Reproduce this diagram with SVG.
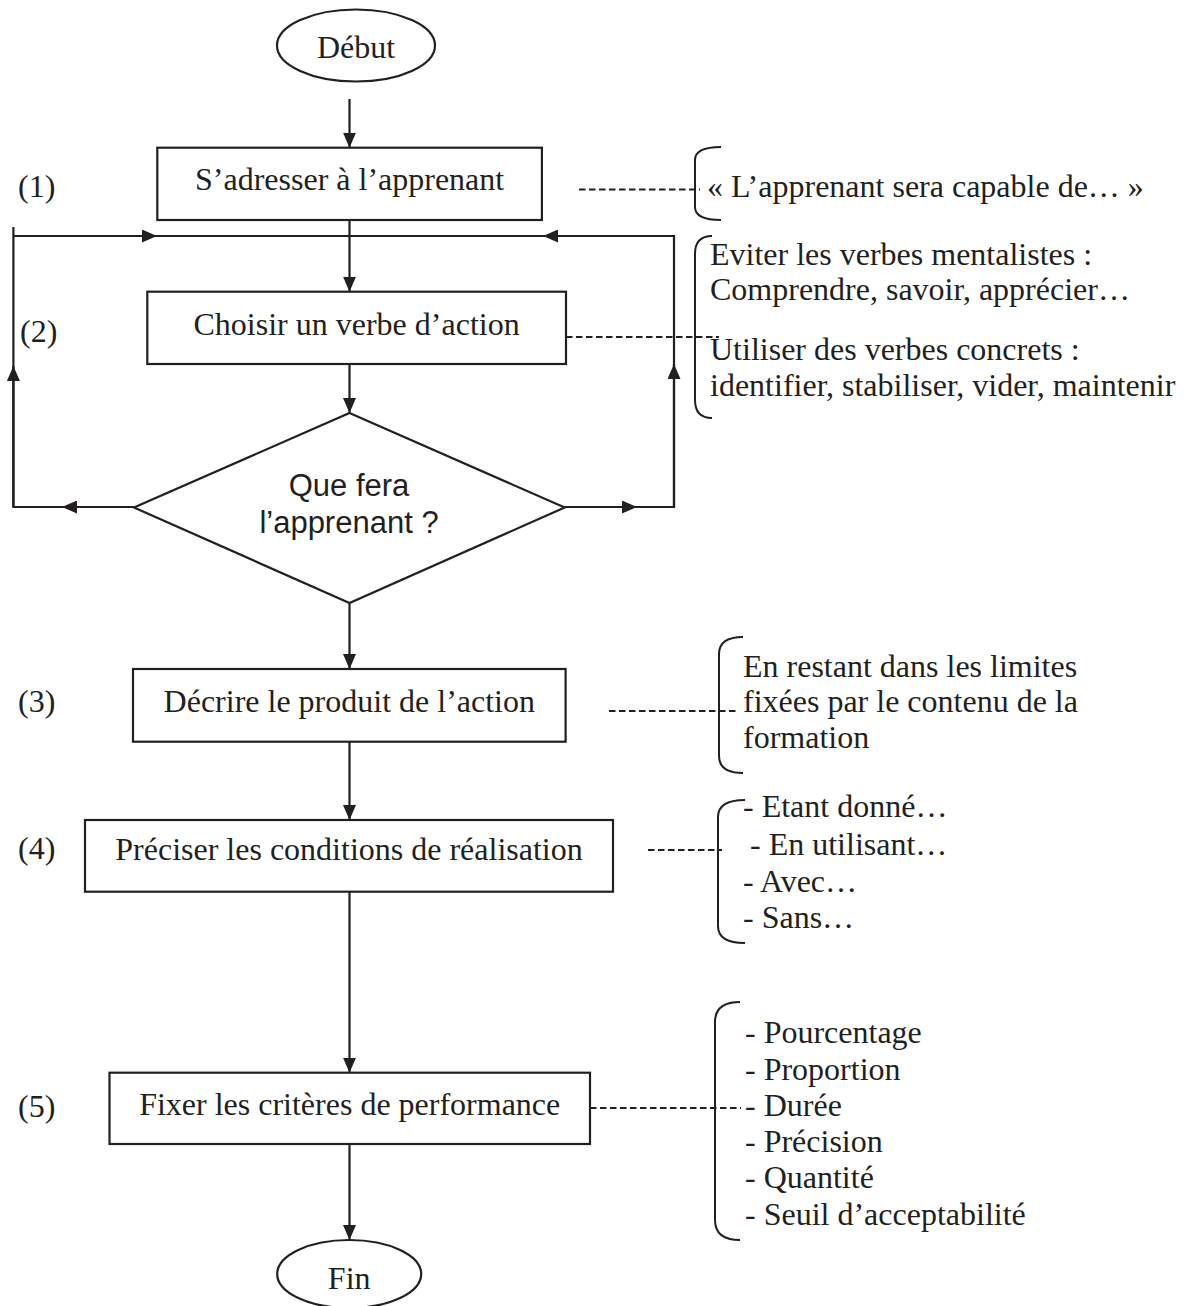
<svg xmlns="http://www.w3.org/2000/svg" width="1192" height="1306" viewBox="0 0 1192 1306">
<style>
.bg{fill:#ffffff}
.shape{fill:#ffffff;stroke:#231f20;stroke-width:2.2}
.t{font-family:"Liberation Serif","Times New Roman",serif;font-size:32px;fill:#231f20}
.c{text-anchor:middle}
.s{font-family:"Liberation Sans",Arial,sans-serif;font-size:31px;fill:#231f20;text-anchor:middle}
.ln{fill:none;stroke:#231f20;stroke-width:2.2}
.ar{fill:none;stroke:#231f20;stroke-width:2.2;marker-end:url(#ah)}
.dash{fill:none;stroke:#231f20;stroke-width:2;stroke-dasharray:6.5 3.5}
.br{fill:none;stroke:#231f20;stroke-width:2}
</style>
<defs>
<marker id="ah" markerUnits="userSpaceOnUse" markerWidth="16" markerHeight="13" refX="15" refY="6.5" orient="auto">
<path d="M0,0 L15,6.5 L0,13 Z" fill="#231f20"/>
</marker>
</defs>
<rect class="bg" x="0" y="0" width="1192" height="1306"/>

<g id="connectors">
<path class="ar" d="M349.5,99 L349.5,147.7"/>
<path class="ar" d="M349.5,220 L349.5,291.7"/>
<path class="ar" d="M349.5,364 L349.5,413"/>
<path class="ar" d="M349.5,603 L349.5,669"/>
<path class="ar" d="M349.5,741.7 L349.5,820"/>
<path class="ar" d="M349.5,891.7 L349.5,1072.7"/>
<path class="ar" d="M349.5,1144 L349.5,1240"/>
<!-- left loop -->
<path class="ar" d="M134,507 L62,507"/>
<path class="ln" d="M63,507 L13.4,507 L13.4,366"/>
<path class="ar" d="M13.4,507 L13.4,366"/>
<path class="ln" d="M13.4,366 L13.4,227"/>
<path class="ar" d="M13.4,236 L157,236"/>
<path class="ln" d="M156,236 L349.5,236"/>
<!-- right loop -->
<path class="ar" d="M564.7,507 L637,507"/>
<path class="ln" d="M636,507 L674,507 L674,236 L543,236"/>
<path class="ar" d="M674,507 L674,364"/>
<path class="ar" d="M674,236 L543,236"/>
<path class="ln" d="M544,236 L349.5,236"/>
<!-- dashed links -->
<path class="dash" d="M579,189.5 L700,189.5"/>
<path class="dash" d="M566,337 L719,337"/>
<path class="dash" d="M609,711 L737,711"/>
<path class="dash" d="M648,850 L722,850"/>
<path class="dash" d="M590,1108 L741,1108"/>
<!-- braces -->
<path class="br" d="M721,147 Q695,147 695,160 L695,207 Q695,220 721,220"/>
<path class="br" d="M712,236 Q695,236 695,254 L695,400 Q695,418 712,418"/>
<path class="br" d="M743,637 Q719,637 719,654 L719,756 Q719,773 743,773"/>
<path class="br" d="M745,800 Q718,800 718,817 L718,926 Q718,943 745,943"/>
<path class="br" d="M740,1002 Q715,1002 715,1022 L715,1220 Q715,1240 740,1240"/>
</g>

<g id="debut">
<ellipse class="shape" cx="356" cy="45.5" rx="79" ry="36"/>
<text class="t c" x="356" y="58">Début</text>
</g>
<g id="step1">
<rect class="shape" x="157.3" y="147.7" width="384.6" height="72.3"/>
<text class="t c" x="349.6" y="190">S’adresser à l’apprenant</text>
</g>
<g id="step2">
<rect class="shape" x="147.3" y="291.7" width="418.7" height="72.3"/>
<text class="t c" x="356.6" y="335">Choisir un verbe d’action</text>
</g>
<g id="decision">
<polygon class="shape" points="349.5,413 564.7,507.5 349.5,603 134,507.5"/>
<text class="s" x="349" y="496">Que fera</text>
<text class="s" x="349" y="533">l’apprenant ?</text>
</g>
<g id="step3">
<rect class="shape" x="133" y="669" width="432.6" height="72.7"/>
<text class="t c" x="349.3" y="712">Décrire le produit de l’action</text>
</g>
<g id="step4">
<rect class="shape" x="85" y="820" width="528" height="71.7"/>
<text class="t c" x="349" y="860">Préciser les conditions de réalisation</text>
</g>
<g id="step5">
<rect class="shape" x="109.5" y="1072.7" width="480.5" height="71.3"/>
<text class="t c" x="349.7" y="1115">Fixer les critères de performance</text>
</g>
<g id="fin">
<ellipse class="shape" cx="349.2" cy="1274" rx="72" ry="34"/>
<text class="t c" x="349.2" y="1289">Fin</text>
</g>

<g id="labels">
<text class="t" x="18" y="197">(1)</text>
<text class="t" x="20" y="342">(2)</text>
<text class="t" x="18" y="712">(3)</text>
<text class="t" x="18" y="859">(4)</text>
<text class="t" x="18" y="1117">(5)</text>
</g>

<g id="note1">
<text class="t" x="707" y="197">« L’apprenant sera capable de… »</text>
</g>
<g id="note2">
<text class="t" x="710" y="265">Eviter les verbes mentalistes :</text>
<text class="t" x="710" y="300">Comprendre, savoir, apprécier…</text>
<text class="t" x="710" y="360">Utiliser des verbes concrets :</text>
<text class="t" x="710" y="396">identifier, stabiliser, vider, maintenir</text>
</g>
<g id="note3">
<text class="t" x="743" y="677">En restant dans les limites</text>
<text class="t" x="743" y="712">fixées par le contenu de la</text>
<text class="t" x="743" y="748">formation</text>
</g>
<g id="note4">
<text class="t" x="743" y="817">- Etant donné…</text>
<text class="t" x="750" y="855">- En utilisant…</text>
<text class="t" x="743" y="892">- Avec…</text>
<text class="t" x="743" y="928">- Sans…</text>
</g>
<g id="note5">
<text class="t" x="745" y="1043">- Pourcentage</text>
<text class="t" x="745" y="1080">- Proportion</text>
<text class="t" x="745" y="1116">- Durée</text>
<text class="t" x="745" y="1152">- Précision</text>
<text class="t" x="745" y="1188">- Quantité</text>
<text class="t" x="745" y="1225">- Seuil d’acceptabilité</text>
</g>
</svg>
